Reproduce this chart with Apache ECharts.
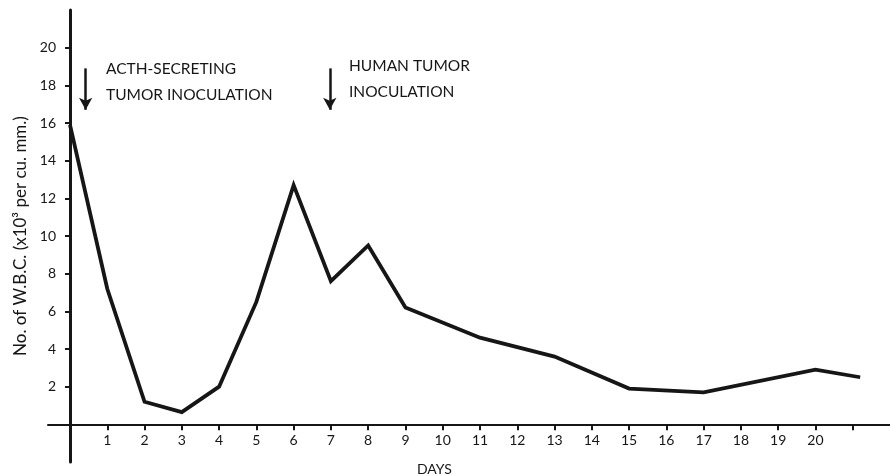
<!DOCTYPE html>
<html>
<head>
<meta charset="utf-8">
<script src="https://cdn.jsdelivr.net/npm/echarts@6/dist/echarts.min.js"></script>
<style>
  html, body { margin: 0; padding: 0; background: #fff; }
  #chart { width: 890px; height: 476px; }
</style>
</head>
<body>
<div id="chart"></div>
<script>
// days on which W.B.C. was counted, and the count (x10^3 per cu. mm.)
var days = [0, 1, 2, 3, 4, 5, 6, 7, 8, 9, 11, 13, 15, 17, 20, 21.2];
var wbc = [15.9, 7.2, 1.2, 0.65, 2.0, 6.5, 12.7, 7.6, 9.5, 6.2, 4.6, 3.6, 1.9, 1.7, 2.9, 2.5];
var dayTicks = [1, 2, 3, 4, 5, 6, 7, 8, 9, 10, 11, 12, 13, 14, 15, 16, 17, 18, 19, 20, 21];
var dayLabels = [1, 2, 3, 4, 5, 6, 7, 8, 9, 10, 11, 12, 13, 14, 15, 16, 17, 18, 19, 20];
var yTicks = [2, 4, 6, 8, 10, 12, 14, 16, 18, 20];
// inoculation days (arrows)
var inoculations = [0.42, 6.97];

var FONT = 'Lato';
var INK = '#161616';

var chart = echarts.init(document.getElementById('chart'));

var points = [];
for (var i = 0; i < days.length; i++) {
    points.push([days[i], wbc[i]]);
}

var arrows = [];
for (var j = 0; j < inoculations.length; j++) {
    arrows.push([{ coord: [inoculations[j], 18.9] }, { coord: [inoculations[j], 16.7] }]);
}

// axes cross at 0,0 and overhang a little; labels stay on the grid edge,
// so their margins are shifted back onto the axis lines
var option = {
    backgroundColor: '#fff',
    animation: false,
    grid: { left: 48, width: 842, top: 10, height: 452, outerBoundsMode: 'none', containLabel: false },
    xAxis: {
        type: 'value',
        min: -0.59,
        max: 22,
        axisLine: { onZero: true, lineStyle: { color: INK, width: 2 } },
        axisTick: { customValues: dayTicks, length: 6, lineStyle: { color: INK, width: 2 } },
        axisLabel: { customValues: dayLabels, color: INK, fontFamily: FONT, fontSize: 14, margin: -29 },
        splitLine: { show: false }
    },
    yAxis: {
        type: 'value',
        min: -2,
        max: 22,
        name: 'No. of W.B.C. (x10³ per cu. mm.)',
        nameLocation: 'middle',
        nameRotate: 90,
        nameGap: 11,
        nameTextStyle: { color: INK, fontFamily: FONT, fontSize: 17 },
        axisLine: { onZero: true, lineStyle: { color: INK, width: 3 } },
        axisTick: { customValues: yTicks, length: 5, lineStyle: { color: INK, width: 2 } },
        axisLabel: { customValues: yTicks, color: INK, fontFamily: FONT, fontSize: 14, margin: -8 },
        splitLine: { show: false }
    },
    series: [{
        type: 'line',
        data: points,
        symbol: 'none',
        lineStyle: { color: INK, width: 3.8, join: 'miter' },
        markLine: {
            silent: true,
            symbol: ['none', 'arrow'],
            symbolSize: [10, 12],
            label: { show: false },
            lineStyle: { color: INK, width: 2.5, type: 'solid' },
            data: arrows
        }
    }],
    graphic: [
        { type: 'text', left: 106, top: 61, style: { text: 'ACTH-SECRETING', font: '15.5px Lato', fill: INK } },
        { type: 'text', left: 106, top: 87, style: { text: 'TUMOR INOCULATION', font: '15.5px Lato', fill: INK } },
        { type: 'text', left: 349, top: 58, style: { text: 'HUMAN TUMOR', font: '15.5px Lato', fill: INK } },
        { type: 'text', left: 349, top: 84, style: { text: 'INOCULATION', font: '15.5px Lato', fill: INK } },
        { type: 'text', left: 417, top: 462, style: { text: 'DAYS', font: '14px Lato', fill: INK } }
    ]
};

chart.setOption(option);
</script>
</body>
</html>
